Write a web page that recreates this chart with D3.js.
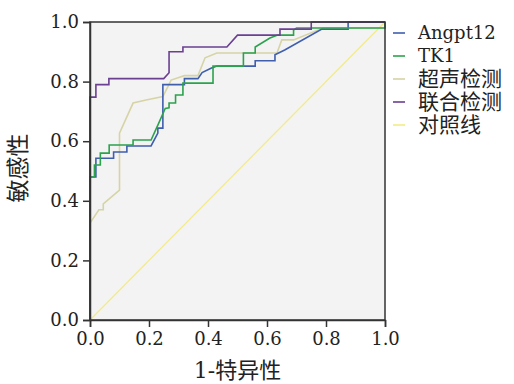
<!DOCTYPE html>
<html><head><meta charset="utf-8">
<script src="https://cdn.jsdelivr.net/npm/d3@7"></script>
<style>body{margin:0;background:#fff}svg text{font-family:"DejaVu Serif","Noto Sans CJK SC",serif;fill:#222}</style>
</head><body><svg id="c" width="514" height="384"></svg>
<script>
const seriesNames = ["Angpt12","TK1","超声检测","联合检测","对照线"];
const seriesColors = ["#3f5eae","#2ca24e","#d6d4a6","#6b3f92","#f3eb86"];
const xTicks = [0,0.2,0.4,0.6,0.8,1.0];
const yTicks = [0,0.2,0.4,0.6,0.8,1.0];
const xTitle = "1-特异性";
const yTitle = "敏感性";

const angptX = [0,0,0.02,0.02,0.08,0.08,0.125,0.125,0.207,0.23,0.23,0.247,0.247,0.32,0.32,0.366,0.38,0.41,0.43,0.56,0.56,0.627,0.627,0.66,0.786,0.875,0.875,1.0];
const angptY = [0,0.48,0.48,0.543,0.543,0.564,0.564,0.584,0.584,0.627,0.644,0.644,0.79,0.79,0.81,0.81,0.83,0.845,0.852,0.852,0.87,0.87,0.89,0.906,0.976,0.976,1.0,1.0];

const tk1X = [0,0,0.015,0.015,0.035,0.035,0.065,0.065,0.146,0.146,0.207,0.23,0.255,0.268,0.268,0.29,0.29,0.315,0.315,0.417,0.417,0.52,0.52,0.56,0.56,0.61,0.636,0.69,0.69,0.7,1.0,1.0];
const tk1Y = [0,0.48,0.48,0.52,0.52,0.56,0.56,0.587,0.587,0.604,0.604,0.654,0.71,0.712,0.728,0.728,0.755,0.755,0.795,0.795,0.852,0.852,0.896,0.896,0.916,0.946,0.956,0.956,0.973,0.98,0.98,1.0];

const usX = [0,0,0.03,0.045,0.045,0.1,0.1,0.146,0.19,0.247,0.275,0.32,0.366,0.39,0.43,0.634,0.65,0.69,0.79,1.0,1.0];
const usY = [0,0.325,0.37,0.37,0.39,0.436,0.627,0.728,0.738,0.75,0.805,0.82,0.82,0.88,0.896,0.896,0.94,0.94,0.98,0.98,1.0];

const combX = [0,0,0.02,0.02,0.064,0.064,0.25,0.268,0.268,0.315,0.315,0.464,0.50,0.644,0.644,0.75,0.75,1.0];
const combY = [0,0.748,0.748,0.79,0.79,0.81,0.81,0.83,0.90,0.90,0.916,0.916,0.956,0.956,0.976,0.976,1.0,1.0];

const refX = [0,1];
const refY = [0,1];

const svg = d3.select("#c");
const x = d3.scaleLinear().domain([0,1]).range([90,385]);
const y = d3.scaleLinear().domain([0,1]).range([320,22]);

svg.append("rect").attr("x",x(0)).attr("y",y(1)).attr("width",x(1)-x(0)).attr("height",y(0)-y(1)).attr("fill","#f3f3f3");

const data = [[angptX,angptY],[tk1X,tk1Y],[usX,usY],[combX,combY],[refX,refY]];
const line = d3.line().x(d=>x(d[0])).y(d=>y(d[1]));
const drawOrder = [4,2,0,1,3];
drawOrder.forEach(i=>{
  const pts = data[i][0].map((v,k)=>[v,data[i][1][k]]);
  svg.append("path").attr("d",line(pts)).attr("fill","none")
    .attr("stroke",seriesColors[i]).attr("stroke-width",i===4?1.2:1.6);
});

svg.append("rect").attr("x",x(0)).attr("y",y(1)).attr("width",x(1)-x(0)).attr("height",y(0)-y(1))
  .attr("fill","none").attr("stroke","#333").attr("stroke-width",1.5);

const fmt = d3.format(".1f");
const xa = svg.append("g").attr("transform",`translate(0,${y(0)})`)
  .call(d3.axisBottom(x).tickValues(xTicks).tickFormat(fmt).tickSize(7).tickPadding(5));
const ya = svg.append("g").attr("transform",`translate(${x(0)},0)`)
  .call(d3.axisLeft(y).tickValues(yTicks).tickFormat(fmt).tickSize(7).tickPadding(4));
[xa,ya].forEach(a=>{
  a.select(".domain").attr("stroke","#333").attr("stroke-width",1.5);
  a.selectAll(".tick line").attr("stroke","#333").attr("stroke-width",1.5);
  a.selectAll(".tick text").attr("font-size",18).attr("fill","#222")
    .attr("font-family",'"DejaVu Serif",serif');
});

svg.append("text").attr("x",(x(0)+x(1))/2).attr("y",378).attr("text-anchor","middle")
  .attr("font-size",22).text(xTitle);
svg.append("text").attr("transform",`translate(26,${(y(0)+y(1))/2 - 3}) rotate(-90)`)
  .attr("text-anchor","middle").attr("font-size",23).text(yTitle);

const lg = svg.append("g");
seriesNames.forEach((n,i)=>{
  const ly = 33 + i*23;
  lg.append("line").attr("x1",393).attr("x2",405).attr("y1",ly).attr("y2",ly)
    .attr("stroke",seriesColors[i]).attr("stroke-width",1.6);
  const cjk = /[\u4e00-\u9fff]/.test(n);
  lg.append("text").attr("x",418).attr("y",ly).attr("dy","0.35em")
    .attr("font-size",cjk?21:18).text(n);
});
</script></body></html>
